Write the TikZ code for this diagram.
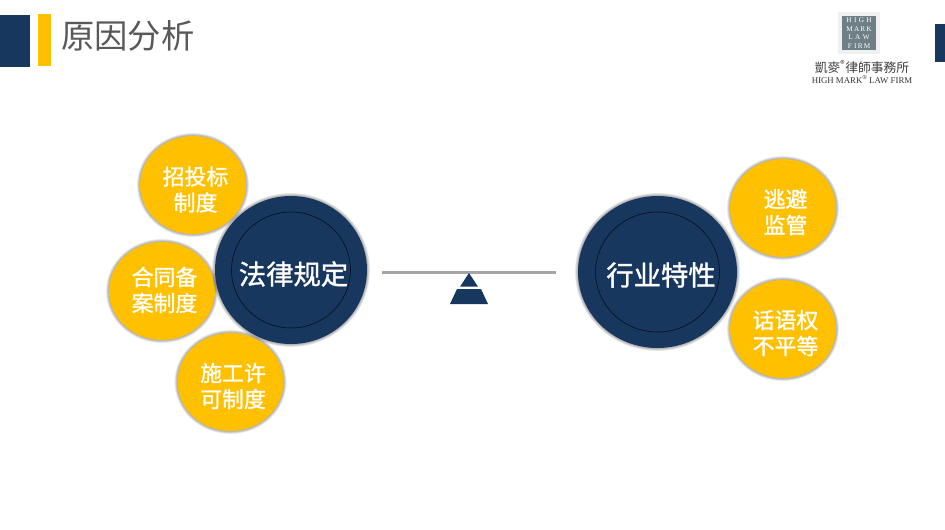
\documentclass[tikz,border=0pt]{standalone}
\usepackage{fontspec}
\usepackage{xcolor}
\usepackage{tikz}
\usetikzlibrary{shapes.geometric}
\setmainfont{Liberation Serif}
\newfontfamily\cjk{Noto Sans CJK SC}
\newfontfamily\cjkfat[FakeBold=1.2]{Noto Sans CJK SC}
\newfontfamily\cjktc{Noto Sans CJK TC}
\definecolor{navy}{HTML}{17375E}
\definecolor{gold}{HTML}{FFC000}
\definecolor{beam}{HTML}{A6A6A6}
\definecolor{logogray}{HTML}{6F7F86}
\definecolor{titlegray}{HTML}{595959}
\tikzset{
  bubble/.style={ellipse, inner sep=0pt},
  smallbub/.style={bubble, fill=gold, minimum width=79.5pt, minimum height=73.5pt},
  bigbub/.style={bubble, fill=navy},
  bubtxt/.style={text=white, align=center, inner sep=0pt, font=\cjkfat\fontsize{16.4}{19.5}\selectfont},
  bigtxt/.style={text=white, inner sep=0pt, font=\cjkfat\fontsize{20.5}{24}\selectfont},
  logoline/.style={text=white, font=\fontsize{5.4}{6}\selectfont, inner sep=0pt}
}
\begin{document}
\begin{tikzpicture}[x=.75pt, y=-.75pt]
\useasboundingbox (0,0) rectangle (945,529);
% header bars
\fill[navy] (0,15) rectangle (30,67);
\fill[gold] (38,14) rectangle (51,66);
\fill[navy] (935,24) rectangle (945,62);
\node[text=titlegray, font=\cjk\fontsize{25}{30}\selectfont, anchor=west, inner sep=0pt] (title) at (61,36) {原因分析};
% logo
\fill[black!6] (838,12) rectangle (880,54);
\fill[logogray] (842,16) rectangle (876,50);
\foreach \ly/\lname/\ltxt in {20/high/H\,\,I\,\,G\,\,H, 29/mark/M\,A\,R\,K, 37/law/L\,\,A\,\,W, 46/firm/F\,\,I\,R\,M} {
  \node[logoline] (\lname) at (859,\ly) {\ltxt};
}
\node[text=black!75, font=\cjktc\fontsize{9.6}{10}\selectfont, inner sep=0pt] (firmcn) at (862,67) {凱麥\textsuperscript{\textregistered}律師事務所};
\node[text=black!80, font=\fontsize{6.6}{8}\selectfont, inner sep=0pt] (firmen) at (862,80) {HIGH MARK\textsuperscript{\textregistered}\,LAW FIRM};
% small bubbles
\foreach \cx/\cy/\dy/\bname/\btxt in {193/185/4.5/zhaobiao/{招投标\\制度}, 162/291/-1/hetong/{合同备\\案制度}, 230.5/382/4/shigong/{施工许\\可制度}, 783/208/4/taobi/{逃避\\监管}, 783/329/4/huayu/{话语权\\不平等}} {
  \foreach \g in {1,...,5} {
    \fill[black, opacity=.07] (\cx,\cy) ellipse ({(53+\g*.6)*.75pt} and {(49+\g*.6)*.75pt});
  }
  \node[smallbub] (\bname) at (\cx,\cy) {};
  \node[bubtxt] (\bname txt) at (\cx+2.5,\cy+\dy) {\btxt};
}
% big bubbles
\foreach \g in {1,...,5} {
  \fill[black, opacity=.07] (291,270) ellipse ({(76+\g*.6)*.75pt} and {(74+\g*.6)*.75pt});
  \fill[black, opacity=.07] (657.5,272) ellipse ({(79.5+\g*.6)*.75pt} and {(76+\g*.6)*.75pt});
}
\node[bigbub, minimum width=114pt, minimum height=111pt] (law) at (291,270) {};
\node[bigbub, minimum width=119.25pt, minimum height=114pt] (trade) at (657.5,272) {};
\draw[black!80!navy] (291,270) ellipse (59.5*.75pt and 58*.75pt);
\draw[black!80!navy] (657.5,272) ellipse (62*.75pt and 60*.75pt);
\node[bigtxt] (lawtxt) at (293.5,274) {法律规定};
\node[bigtxt] (tradetxt) at (661,275) {行业特性};
% balance
\draw[beam, line width=2.25pt] (382,272)--(556,272);
\fill[navy] (469,273)--(478,286.7)--(460,286.7)--cycle;
\fill[navy] (457,289)--(481,289)--(488,304)--(450,304)--cycle;
\end{tikzpicture}
\end{document}
